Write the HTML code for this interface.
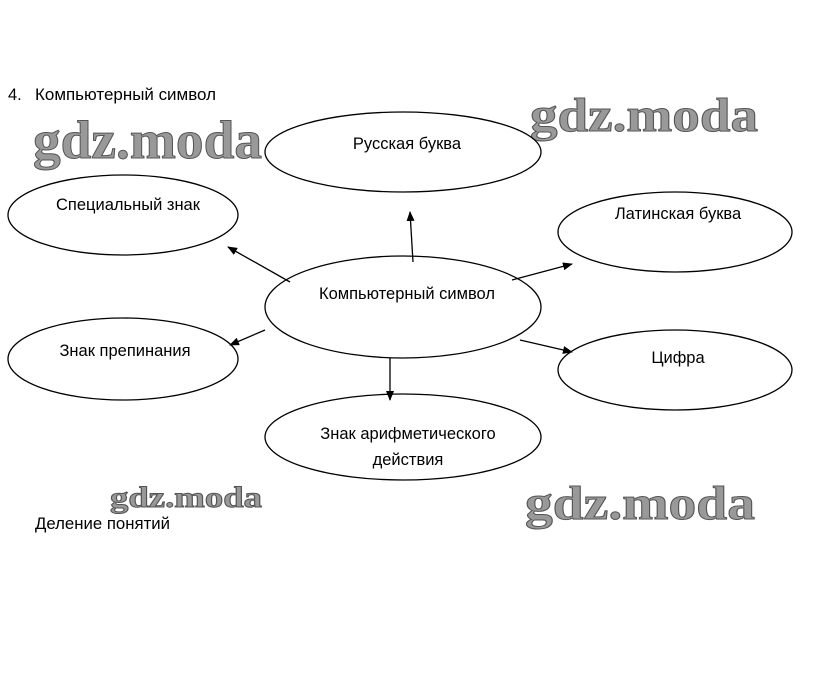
<!DOCTYPE html>
<html><head><meta charset="utf-8"><style>
html,body{margin:0;padding:0;background:#fff;}
svg{display:block}
</style></head><body>
<svg width="823" height="687" viewBox="0 0 823 687" xmlns="http://www.w3.org/2000/svg">
<defs>
<marker id="a" markerWidth="10" markerHeight="8" refX="9" refY="4" orient="auto" markerUnits="userSpaceOnUse">
<path d="M0,0 L10,4 L0,8 Z" fill="#000"/></marker>
</defs>
<rect width="823" height="687" fill="#fff"/>
<g font-family="Liberation Serif, serif" font-weight="bold" fill="#999" stroke="#555" stroke-width="1">
<text x="33" y="158" font-size="54" textLength="229" lengthAdjust="spacingAndGlyphs">gdz.moda</text>
<text x="530" y="131" font-size="48" textLength="228" lengthAdjust="spacingAndGlyphs">gdz.moda</text>
<text x="110" y="507" font-size="30" textLength="152" lengthAdjust="spacingAndGlyphs">gdz.moda</text>
<text x="525" y="519" font-size="48" textLength="230" lengthAdjust="spacingAndGlyphs">gdz.moda</text>
</g>
<g fill="none" stroke="#000" stroke-width="1.3">
<ellipse cx="403" cy="152" rx="138" ry="40"/>
<ellipse cx="123" cy="215" rx="115" ry="40"/>
<ellipse cx="675" cy="232" rx="117" ry="40"/>
<ellipse cx="403" cy="307" rx="138" ry="51"/>
<ellipse cx="123" cy="359" rx="115" ry="41"/>
<ellipse cx="675" cy="370" rx="117" ry="40"/>
<ellipse cx="403" cy="437" rx="138" ry="43"/>
<line x1="413" y1="262" x2="410" y2="212" marker-end="url(#a)"/>
<line x1="290" y1="282" x2="228" y2="247" marker-end="url(#a)"/>
<line x1="512" y1="280" x2="572" y2="264" marker-end="url(#a)"/>
<line x1="265" y1="330" x2="230" y2="345" marker-end="url(#a)"/>
<line x1="520" y1="340" x2="572" y2="352" marker-end="url(#a)"/>
<line x1="390" y1="358" x2="390" y2="400" marker-end="url(#a)"/>
</g>
<g font-family="Liberation Sans, sans-serif" font-size="16.5" fill="#000">
<text x="8" y="100">4.</text>
<text x="35" y="100" textLength="181" lengthAdjust="spacingAndGlyphs">Компьютерный символ</text>
<text x="407" y="149" text-anchor="middle">Русская буква</text>
<text x="128" y="210" text-anchor="middle">Специальный знак</text>
<text x="678" y="219" text-anchor="middle">Латинская буква</text>
<text x="407" y="299" text-anchor="middle">Компьютерный символ</text>
<text x="125" y="356" text-anchor="middle">Знак препинания</text>
<text x="678" y="363" text-anchor="middle">Цифра</text>
<text x="408" y="439" text-anchor="middle">Знак арифметического</text>
<text x="408" y="465" text-anchor="middle">действия</text>
<text x="35" y="529" textLength="135" lengthAdjust="spacingAndGlyphs">Деление понятий</text>
</g>
</svg>
</body></html>
